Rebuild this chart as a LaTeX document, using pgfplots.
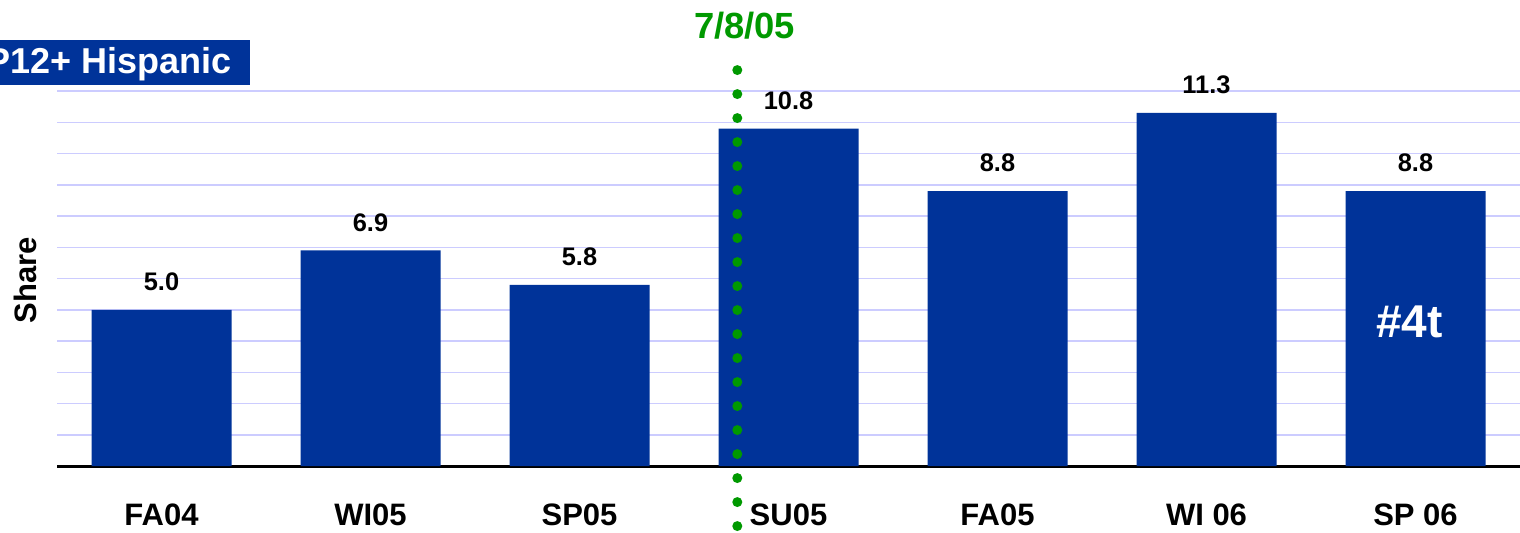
\documentclass[border=0pt]{standalone}
\usepackage{pgfplots}
\pgfplotsset{compat=1.18}
\usepackage{fontspec}
\setmainfont{Liberation Sans}
\definecolor{barblue}{HTML}{003399}
\definecolor{gridc}{HTML}{CCCCFF}
\definecolor{dgreen}{HTML}{009900}
\begin{document}
\begin{tikzpicture}
\begin{axis}[
 scale only axis, width=731.5pt, height=187.5pt,
 xmin=-0.5, xmax=6.5, ymin=0, ymax=12,
 ybar, bar width=70pt,
 xtick={0,...,6}, xticklabels={FA04,WI05,SP05,SU05,FA05,WI 06,SP 06},
 xticklabel style={anchor=base, yshift=-29.5pt, font=\fontsize{15.5}{17}\selectfont\bfseries},
 ytick={1,...,12}, yticklabels={},
 ymajorgrids, grid style={gridc, line width=0.75pt},
 axis x line*=bottom, axis y line*=left, y axis line style={draw=none},
 x axis line style={line width=1.5pt},
 major tick length=0pt,
 clip=false,
 nodes near coords, point meta=explicit symbolic,
 nodes near coords style={anchor=center, yshift=14pt, font=\fontsize{12.7}{14}\selectfont\bfseries, text=black},
]
\addplot[fill=barblue, draw=none] coordinates {(0,5.0)[5.0] (1,6.9)[6.9] (2,5.8)[5.8] (3,10.8)[10.8] (4,8.8)[8.8] (5,11.3)[11.3] (6,8.8)[8.8]};
\draw[dgreen, line width=5pt, line cap=round, dash pattern=on 0pt off 12pt] (axis cs:2.755,12.67) -- (axis cs:2.755,-2.3);
\node[text=dgreen, font=\fontsize{18.2}{20}\selectfont\bfseries] at (axis cs:2.79,14.1) {7/8/05};
\node[text=white, font=\fontsize{23}{26}\selectfont\bfseries] at (axis cs:5.97,4.6) {\#4t};
\end{axis}
\fill[barblue] (-40pt,190.5pt) rectangle (96.5pt,213pt);
\node[anchor=base east, text=white, font=\fontsize{18}{20}\selectfont\bfseries, inner sep=0pt] at (87.5pt,196.5pt) {P12+ Hispanic};
\node[rotate=90, font=\fontsize{15.5}{17}\selectfont\bfseries] at (-16pt,93pt) {Share};
\pgfresetboundingbox
\useasboundingbox (-28.5pt,-33pt) rectangle (731.5pt,233pt);
\end{tikzpicture}
\end{document}
